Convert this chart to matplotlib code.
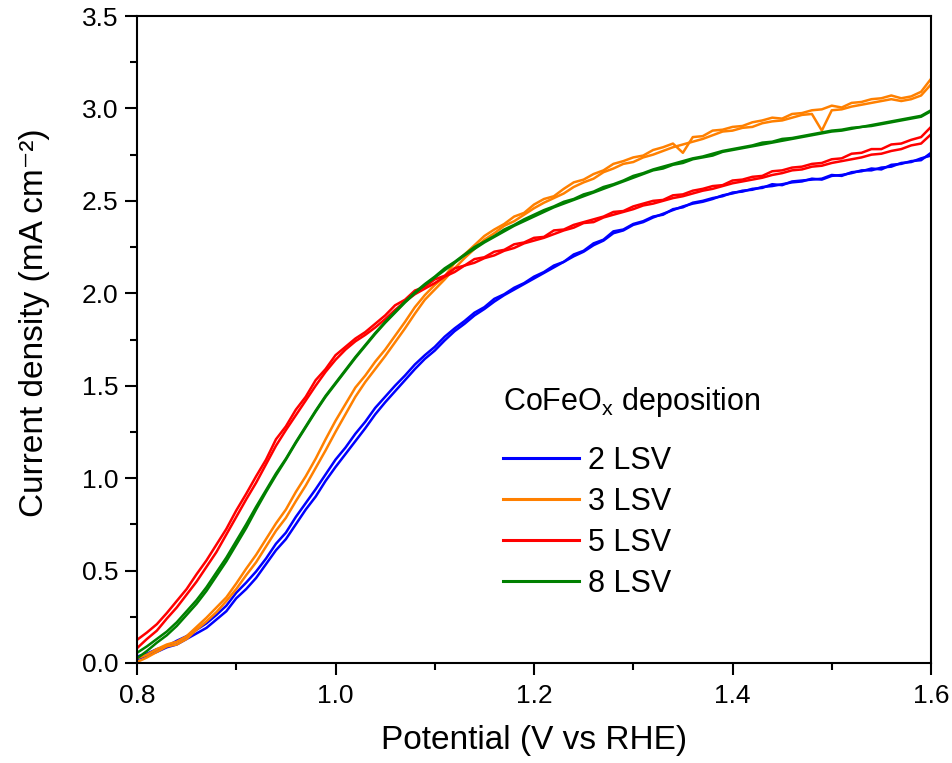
import numpy as np
import matplotlib
matplotlib.use("Agg")
import matplotlib.pyplot as plt
from matplotlib.lines import Line2D
from matplotlib.ticker import MultipleLocator, FormatStrFormatter

plt.rcParams['font.family'] = ['Liberation Sans', 'DejaVu Sans']
plt.rcParams['mathtext.fontset'] = 'custom'
plt.rcParams['mathtext.rm'] = 'Liberation Sans'

# Potential (V vs RHE), 0.01 V steps from 0.80 to 1.60
potential = np.round(np.arange(0.80, 1.6001, 0.01), 2)

labels = ["2 LSV", "3 LSV", "5 LSV", "8 LSV"]
colors = ["#0000FF", "#FF8000", "#FF0000", "#008000"]

lsv2_a = [0.035, 0.05, 0.075, 0.09, 0.12, 0.145, 0.18, 0.215, 0.26, 0.31,
          0.38, 0.435, 0.495, 0.565, 0.645, 0.705, 0.79, 0.865, 0.94, 1.02,
          1.10, 1.165, 1.24, 1.305, 1.38, 1.44, 1.50, 1.555, 1.615, 1.665,
          1.71, 1.765, 1.81, 1.85, 1.895, 1.925, 1.97, 1.995, 2.03, 2.055,
          2.09, 2.115, 2.15, 2.17, 2.21, 2.23, 2.27, 2.29, 2.335, 2.345,
          2.375, 2.39, 2.415, 2.425, 2.455, 2.465, 2.49, 2.50, 2.515, 2.525,
          2.545, 2.55, 2.565, 2.57, 2.59, 2.585, 2.605, 2.61, 2.615, 2.62,
          2.64, 2.635, 2.655, 2.66, 2.675, 2.67, 2.695, 2.70, 2.715, 2.72,
          2.76]
lsv2_b = [0.02, 0.04, 0.06, 0.085, 0.10, 0.13, 0.16, 0.19, 0.235, 0.28,
          0.35, 0.40, 0.46, 0.535, 0.61, 0.67, 0.75, 0.83, 0.90, 0.985,
          1.06, 1.13, 1.20, 1.27, 1.345, 1.41, 1.47, 1.53, 1.59, 1.645,
          1.69, 1.745, 1.795, 1.835, 1.88, 1.915, 1.955, 1.99, 2.02, 2.05,
          2.08, 2.11, 2.14, 2.17, 2.20, 2.225, 2.26, 2.285, 2.325, 2.34,
          2.37, 2.385, 2.41, 2.43, 2.45, 2.47, 2.485, 2.495, 2.51, 2.53,
          2.54, 2.555, 2.56, 2.575, 2.58, 2.59, 2.60, 2.605, 2.62, 2.615,
          2.635, 2.64, 2.65, 2.665, 2.665, 2.68, 2.685, 2.705, 2.71, 2.73,
          2.745]

lsv3_a = [0.025, 0.045, 0.075, 0.10, 0.115, 0.145, 0.195, 0.245, 0.30, 0.355,
          0.43, 0.51, 0.585, 0.67, 0.755, 0.83, 0.925, 1.01, 1.105, 1.21,
          1.31, 1.40, 1.49, 1.555, 1.63, 1.695, 1.77, 1.845, 1.925, 1.99,
          2.045, 2.09, 2.165, 2.21, 2.26, 2.31, 2.345, 2.375, 2.415, 2.435,
          2.48, 2.51, 2.525, 2.565, 2.60, 2.615, 2.645, 2.665, 2.70, 2.715,
          2.735, 2.745, 2.775, 2.79, 2.81, 2.76, 2.845, 2.85, 2.88, 2.885,
          2.90, 2.905, 2.925, 2.935, 2.95, 2.945, 2.97, 2.975, 2.99, 2.995,
          3.015, 3.005, 3.03, 3.035, 3.05, 3.055, 3.07, 3.055, 3.065, 3.09,
          3.16]
lsv3_b = [0.005, 0.03, 0.06, 0.09, 0.10, 0.13, 0.18, 0.225, 0.275, 0.335,
          0.40, 0.475, 0.545, 0.63, 0.715, 0.785, 0.875, 0.96, 1.055, 1.15,
          1.25, 1.345, 1.44, 1.52, 1.59, 1.66, 1.735, 1.81, 1.89, 1.965,
          2.02, 2.075, 2.135, 2.19, 2.24, 2.29, 2.325, 2.365, 2.39, 2.425,
          2.46, 2.49, 2.515, 2.54, 2.575, 2.60, 2.62, 2.655, 2.675, 2.70,
          2.71, 2.735, 2.75, 2.77, 2.79, 2.805, 2.82, 2.835, 2.855, 2.875,
          2.88, 2.895, 2.90, 2.92, 2.93, 2.935, 2.95, 2.965, 2.97, 2.88,
          2.99, 2.995, 3.01, 3.02, 3.03, 3.04, 3.05, 3.04, 3.05, 3.07,
          3.13]

lsv5_a = [0.125, 0.165, 0.21, 0.27, 0.335, 0.40, 0.48, 0.555, 0.64, 0.725,
          0.825, 0.915, 1.01, 1.10, 1.21, 1.28, 1.37, 1.44, 1.53, 1.59,
          1.665, 1.71, 1.755, 1.79, 1.835, 1.88, 1.935, 1.965, 2.015, 2.035,
          2.075, 2.095, 2.135, 2.15, 2.185, 2.195, 2.225, 2.235, 2.265, 2.275,
          2.30, 2.305, 2.34, 2.345, 2.37, 2.385, 2.40, 2.415, 2.44, 2.445,
          2.47, 2.485, 2.50, 2.505, 2.53, 2.535, 2.555, 2.565, 2.58, 2.585,
          2.61, 2.615, 2.63, 2.635, 2.66, 2.665, 2.68, 2.685, 2.70, 2.705,
          2.725, 2.73, 2.755, 2.76, 2.78, 2.78, 2.805, 2.81, 2.83, 2.845,
          2.90]
lsv5_b = [0.08, 0.13, 0.175, 0.24, 0.30, 0.37, 0.44, 0.52, 0.60, 0.695,
          0.79, 0.885, 0.975, 1.075, 1.175, 1.26, 1.34, 1.42, 1.50, 1.575,
          1.64, 1.695, 1.74, 1.775, 1.815, 1.86, 1.91, 1.955, 1.995, 2.025,
          2.055, 2.09, 2.115, 2.15, 2.165, 2.19, 2.205, 2.23, 2.245, 2.27,
          2.285, 2.30, 2.32, 2.34, 2.355, 2.38, 2.385, 2.41, 2.425, 2.44,
          2.455, 2.475, 2.485, 2.50, 2.515, 2.525, 2.54, 2.555, 2.565, 2.58,
          2.595, 2.605, 2.615, 2.625, 2.64, 2.65, 2.665, 2.67, 2.685, 2.69,
          2.705, 2.715, 2.725, 2.735, 2.75, 2.755, 2.77, 2.78, 2.80, 2.81,
          2.86]

lsv8_a = [0.055, 0.09, 0.13, 0.17, 0.22, 0.28, 0.34, 0.41, 0.49, 0.57,
          0.66, 0.75, 0.845, 0.935, 1.025, 1.105, 1.195, 1.28, 1.365, 1.445,
          1.515, 1.585, 1.655, 1.72, 1.785, 1.845, 1.90, 1.955, 2.005, 2.05,
          2.09, 2.135, 2.17, 2.21, 2.25, 2.28, 2.31, 2.345, 2.37, 2.40,
          2.425, 2.45, 2.47, 2.495, 2.51, 2.535, 2.55, 2.575, 2.59, 2.61,
          2.635, 2.65, 2.67, 2.685, 2.70, 2.715, 2.73, 2.74, 2.755, 2.77,
          2.78, 2.79, 2.80, 2.815, 2.82, 2.835, 2.84, 2.85, 2.86, 2.87,
          2.88, 2.885, 2.895, 2.90, 2.91, 2.92, 2.93, 2.94, 2.95, 2.96,
          2.99]
lsv8_b = [0.025, 0.065, 0.11, 0.15, 0.20, 0.26, 0.32, 0.39, 0.47, 0.55,
          0.64, 0.73, 0.83, 0.925, 1.015, 1.10, 1.19, 1.275, 1.36, 1.44,
          1.51, 1.58, 1.65, 1.715, 1.78, 1.84, 1.895, 1.95, 2.00, 2.045,
          2.085, 2.125, 2.165, 2.205, 2.24, 2.275, 2.305, 2.335, 2.365, 2.39,
          2.415, 2.44, 2.465, 2.485, 2.505, 2.525, 2.545, 2.565, 2.585, 2.605,
          2.625, 2.645, 2.665, 2.675, 2.695, 2.705, 2.725, 2.735, 2.745, 2.765,
          2.775, 2.785, 2.795, 2.805, 2.815, 2.825, 2.835, 2.845, 2.855, 2.865,
          2.875, 2.88, 2.89, 2.90, 2.905, 2.915, 2.925, 2.935, 2.945, 2.955,
          2.985]

series = [(lsv2_a, lsv2_b), (lsv3_a, lsv3_b), (lsv5_a, lsv5_b), (lsv8_a, lsv8_b)]

fig = plt.figure(figsize=(9.53, 7.63), dpi=100)
ax = fig.add_axes([137/953, 1 - 663/763, (931 - 137)/953, (663 - 16)/763])

for (a, b), c in zip(series, colors):
    ax.plot(potential, a, color=c, lw=1.8, solid_joinstyle='round')
    ax.plot(potential, b, color=c, lw=1.8, solid_joinstyle='round')

ax.set_xlim(0.8, 1.6)
ax.set_ylim(0.0, 3.5)
ax.xaxis.set_major_locator(MultipleLocator(0.2))
ax.xaxis.set_minor_locator(MultipleLocator(0.1))
ax.yaxis.set_major_locator(MultipleLocator(0.5))
ax.yaxis.set_minor_locator(MultipleLocator(0.25))
ax.xaxis.set_major_formatter(FormatStrFormatter('%.1f'))
ax.yaxis.set_major_formatter(FormatStrFormatter('%.1f'))

for s in ax.spines.values():
    s.set_linewidth(1.5)
ax.tick_params(which='major', direction='out', length=8.5, width=1.5,
               labelsize=19)
ax.tick_params(axis='x', which='major', pad=6.5)
ax.tick_params(axis='y', which='major', pad=5)
ax.tick_params(which='minor', direction='out', length=5, width=1.5)
ax.tick_params(top=False, right=False, which='both')

ax.set_xlabel("Potential (V vs RHE)", fontsize=24, labelpad=12)
ax.set_ylabel("Current density (mA cm\u207b\u00b2)", fontsize=24)
ax.yaxis.set_label_coords((50 - 137) / 794, (663 - 323) / 647)

fig.text(503/953, 1 - 402/763, "CoFeO$_\\mathregular{x}$ deposition",
         fontsize=22, ha='left', va='center')

handles = [Line2D([0], [0], color=c, lw=2.2) for c in colors]
leg = ax.legend(handles, labels, loc='upper left',
                bbox_to_anchor=(503/953, 1 - 446/763), bbox_transform=fig.transFigure,
                frameon=False, fontsize=22, handlelength=2.5,
                handletextpad=0.28, labelspacing=0.36, borderpad=0.0,
                borderaxespad=0.0)

fig.savefig("out.png", dpi=100)
